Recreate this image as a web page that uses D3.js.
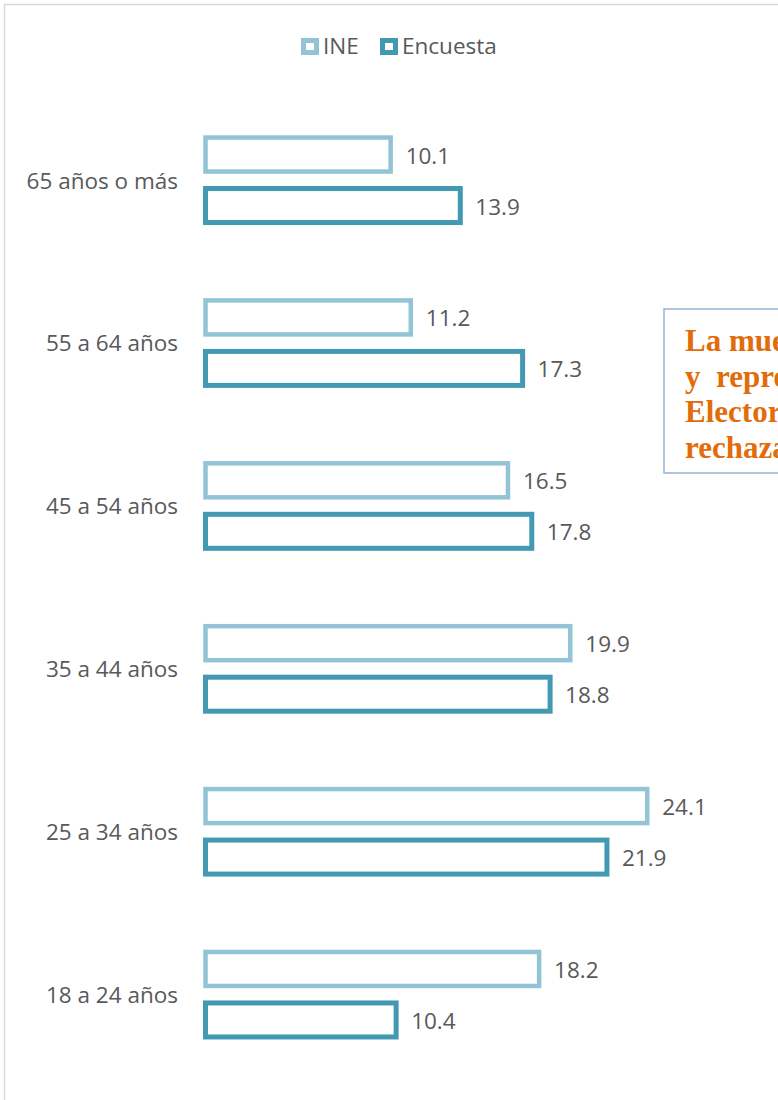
<!DOCTYPE html>
<html>
<head>
<meta charset="utf-8">
<script src="https://cdn.jsdelivr.net/npm/d3@7"></script>
<style>
  body { margin: 0; background: #fff; }
  svg { display: block; }
</style>
</head>
<body>
<div id="chart"></div>
<script>
// Data
const categories = ["65 años o más", "55 a 64 años", "45 a 54 años", "35 a 44 años", "25 a 34 años", "18 a 24 años"];
const series = ["INE", "Encuesta"];
const ineValues = [10.1, 11.2, 16.5, 19.9, 24.1, 18.2];
const encuestaValues = [13.9, 17.3, 17.8, 18.8, 21.9, 10.4];
const noteLines = ["La muestra es", "y  representativa", "Electoral,", "rechaza"];

const W = 778, H = 1100;
const colors = { INE: "#93c4d5", Encuesta: "#4399b1" };
const strokeW = { INE: 4.5, Encuesta: 5 };
const textColor = "#595959";
const font = "'Open Sans', Lato, sans-serif";
const fontSize = "22.5px";

const svg = d3.select("#chart")
  .append("svg")
  .attr("width", W)
  .attr("height", H);

// Chart area border (runs off the page right and bottom)
svg.append("rect")
  .attr("x", 4.5)
  .attr("y", 4.5)
  .attr("width", 900)
  .attr("height", 1200)
  .attr("fill", "#fff")
  .attr("stroke", "#d9d9d9")
  .attr("stroke-width", 1.5);

// Scales
const x = d3.scaleLinear()
  .domain([0, 30])
  .range([205.5, 205.5 + 30 * 18.33]);

const y = d3.scaleBand()
  .domain(categories)
  .range([98.6, 1075.9]);

const ySub = d3.scaleBand()
  .domain(series)
  .range([-42.5, 42.5])
  .paddingInner(1 / 3);

const rows = categories.map((c, i) => ({
  cat: c,
  vals: [
    { key: "INE", v: ineValues[i] },
    { key: "Encuesta", v: encuestaValues[i] }
  ]
}));

// Category axis (labels only)
const yAxis = svg.append("g")
  .attr("transform", `translate(178,0)`)
  .call(d3.axisLeft(y).tickSize(0).tickPadding(0));
yAxis.select(".domain").remove();
yAxis.selectAll(".tick text")
  .attr("dy", "0.38em")
  .style("font-family", font)
  .style("font-size", fontSize)
  .style("fill", textColor);

// Bars
const groups = svg.selectAll(".row")
  .data(rows)
  .join("g")
  .attr("class", "row")
  .attr("transform", d => `translate(0,${y(d.cat) + y.bandwidth() / 2})`);

groups.selectAll("rect")
  .data(d => d.vals)
  .join("rect")
  .attr("x", x(0))
  .attr("y", d => ySub(d.key))
  .attr("width", d => x(d.v) - x(0))
  .attr("height", ySub.bandwidth())
  .attr("fill", "#fff")
  .attr("stroke", d => colors[d.key])
  .attr("stroke-width", d => strokeW[d.key]);

// Value labels
groups.selectAll("text.val")
  .data(d => d.vals)
  .join("text")
  .attr("class", "val")
  .attr("x", d => x(d.v) + 15)
  .attr("y", d => ySub(d.key) + ySub.bandwidth() / 2 + 9)
  .style("font-family", font)
  .style("font-size", fontSize)
  .style("fill", textColor)
  .text(d => d.v.toFixed(1));

// Legend
const legend = svg.append("g")
  .attr("transform", "translate(301,38)");

const legendX = { INE: 0, Encuesta: 79 };
const li = legend.selectAll("g")
  .data(series)
  .join("g")
  .attr("transform", d => `translate(${legendX[d]},0)`);

li.append("rect")
  .attr("x", 2.5)
  .attr("y", 2.5)
  .attr("width", 13)
  .attr("height", 12)
  .attr("fill", "#fff")
  .attr("stroke", d => colors[d])
  .attr("stroke-width", 5);

li.append("text")
  .attr("x", 22)
  .attr("y", 15.5)
  .style("font-family", font)
  .style("font-size", fontSize)
  .style("fill", textColor)
  .text(d => d);

// Note box (cut off at the right edge, as in the original)
const note = svg.append("g");
note.append("rect")
  .attr("x", 664)
  .attr("y", 309)
  .attr("width", 300)
  .attr("height", 164)
  .attr("fill", "#fff")
  .attr("stroke", "#95b3d7")
  .attr("stroke-width", 1.5);

note.selectAll("text")
  .data(noteLines)
  .join("text")
  .attr("x", 685)
  .attr("y", (d, i) => 351 + i * 35.5)
  .attr("xml:space", "preserve")
  .style("font-family", "'Liberation Serif', 'Times New Roman', serif")
  .style("font-weight", "bold")
  .style("font-size", "31px")
  .style("fill", "#e36c0a")
  .text(d => d);
</script>
</body>
</html>
